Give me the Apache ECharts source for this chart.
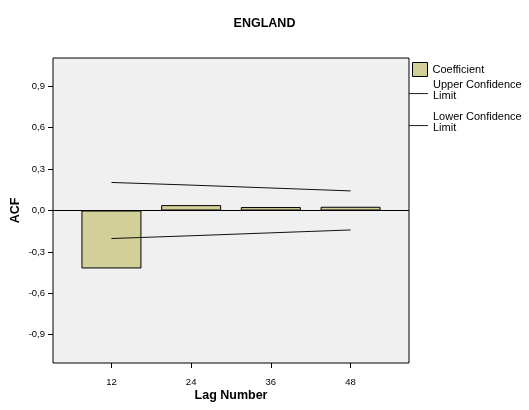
<!DOCTYPE html>
<html>
<head>
<meta charset="utf-8">
<script src="https://cdn.jsdelivr.net/npm/echarts@6/dist/echarts.min.js"></script>
<style>html,body{margin:0;padding:0;background:#fff;}#c{width:529px;height:410px;}</style>
</head>
<body>
<div id="c"></div>
<script>
var lags = [12, 24, 36, 48];
var acf = [-0.42, 0.039, 0.025, 0.027];
var upperLimit = [0.203, 0.184, 0.163, 0.142];
var lowerLimit = [-0.203, -0.183, -0.162, -0.141];
var yTicks = [-0.9, -0.6, -0.3, 0.0, 0.3, 0.6, 0.9];

function pairs(xs, ys) { return xs.map(function (x, i) { return [x, ys[i]]; }); }

var FONT = 'Liberation Sans, Arial, sans-serif';
var LINE_ICON = 'path://M0,0L20,0L20,1L0,1Z M0,5L0,5';
var chart = echarts.init(document.getElementById('c'), null, {renderer: 'canvas'});
chart.setOption({
  animation: false,
  backgroundColor: '#ffffff',
  title: {
    text: 'ENGLAND', left: 'center', top: 12,
    textStyle: {fontFamily: FONT, fontSize: 12.5, fontWeight: 'bold', color: '#000'}
  },
  grid: {
    left: 53, top: 58, width: 356, height: 305,
    outerBoundsMode: 'none', containLabel: false,
    show: true, backgroundColor: '#F0F0F0', borderColor: '#000', borderWidth: 1
  },
  legend: [
    {
      data: ['Coefficient'], left: 412, top: 62, orient: 'vertical', padding: 0,
      itemWidth: 15, itemHeight: 14, selectedMode: false, icon: 'rect',
      itemStyle: {borderColor: '#000', borderWidth: 1},
      textStyle: {fontFamily: FONT, fontSize: 11, color: '#000'}
    },
    {
      data: ['Upper Confidence Limit'], left: 409, top: 79, orient: 'vertical', padding: 0,
      itemWidth: 19, itemHeight: 6, selectedMode: false,
      icon: LINE_ICON,
      formatter: function () { return 'Upper Confidence\nLimit\n '; },
      textStyle: {fontFamily: FONT, fontSize: 11, lineHeight: 11, color: '#000'}
    },
    {
      data: ['Lower Confidence Limit'], left: 409, top: 111, orient: 'vertical', padding: 0,
      itemWidth: 19, itemHeight: 6, selectedMode: false,
      icon: LINE_ICON,
      formatter: function () { return 'Lower Confidence\nLimit\n '; },
      textStyle: {fontFamily: FONT, fontSize: 11, lineHeight: 11, color: '#000'}
    }
  ],
  xAxis: {
    type: 'value', min: 3.2, max: 56.8,
    name: 'Lag Number', nameLocation: 'middle', nameGap: 26, nameMoveOverlap: false,
    nameTextStyle: {fontFamily: FONT, fontSize: 12.5, fontWeight: 'bold', color: '#000'},
    axisLine: {show: false, onZero: false},
    splitLine: {show: false},
    axisTick: {show: true, inside: false, customValues: lags, length: 5, lineStyle: {color: '#000'}},
    axisLabel: {customValues: lags, fontFamily: FONT, fontSize: 9.5, color: '#000', margin: 14}
  },
  yAxis: {
    type: 'value', min: -1.105, max: 1.105,
    name: 'ACF', nameLocation: 'middle', nameGap: 31, nameRotate: 90, nameMoveOverlap: false,
    nameTextStyle: {fontFamily: FONT, fontSize: 12.5, fontWeight: 'bold', color: '#000'},
    axisLine: {show: false, onZero: false},
    splitLine: {show: false},
    axisTick: {show: true, inside: false, customValues: yTicks, length: 5, lineStyle: {color: '#000'}},
    axisLabel: {
      customValues: yTicks, fontFamily: FONT, fontSize: 9.5, color: '#000', margin: 8,
      formatter: function (v) { return v.toFixed(1).replace('.', ','); }
    }
  },
  series: [
    {
      name: 'Coefficient', type: 'bar', barWidth: 60,
      data: pairs(lags, acf),
      itemStyle: {color: '#D3CF98', borderColor: '#000', borderWidth: 1},
      markLine: {
        silent: true, symbol: 'none', label: {show: false},
        lineStyle: {color: '#000', width: 1, type: 'solid'},
        data: [{yAxis: 0}]
      },
      z: 2
    },
    {
      name: 'Upper Confidence Limit', type: 'line', symbol: 'none',
      data: pairs(lags, upperLimit),
      lineStyle: {color: '#111', width: 1}, itemStyle: {color: '#111'}, z: 3
    },
    {
      name: 'Lower Confidence Limit', type: 'line', symbol: 'none',
      data: pairs(lags, lowerLimit),
      lineStyle: {color: '#111', width: 1}, itemStyle: {color: '#111'}, z: 3
    }
  ]
});
</script>
</body>
</html>
